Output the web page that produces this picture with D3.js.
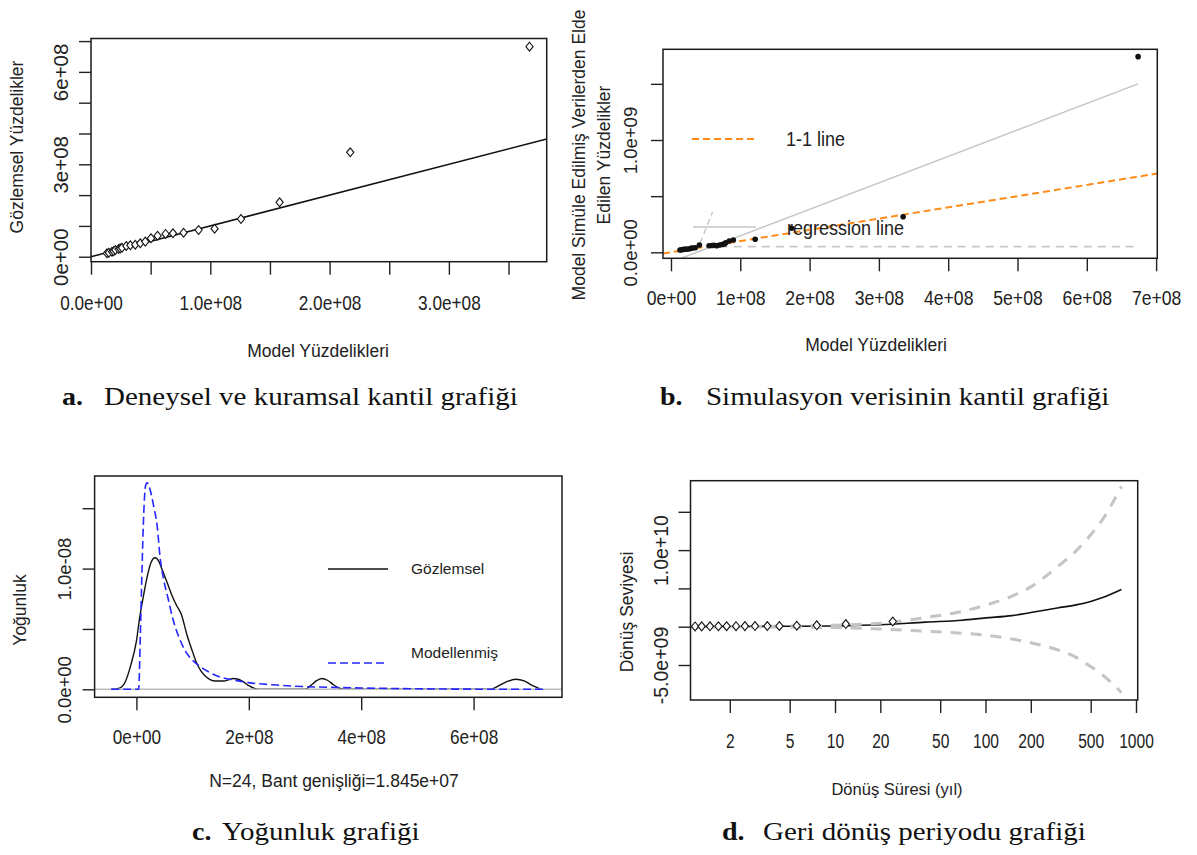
<!DOCTYPE html>
<html lang="tr">
  <head>
    <meta charset="UTF-8">
    <script src="https://d3js.org/d3.v7.min.js"></script>
    <style>
      html, body { margin: 0; padding: 0; background: #fff; }
      svg { display: block; }
    </style>
  </head>
  <body>
    <svg id="graph" width="1197" height="855"></svg>
    <script>
      //
      // a. Quantile plot (values in units of 1e8)
      //
      let qqModel = [0.134, 0.15, 0.176, 0.19, 0.204, 0.231, 0.245, 0.26, 0.296, 0.33, 0.371, 0.413,
                     0.455, 0.503, 0.558, 0.625, 0.687, 0.776, 0.902, 1.036, 1.257, 1.581, 2.173, 3.676];
      let qqObserved = [0.11, 0.13, 0.16, 0.18, 0.22, 0.25, 0.27, 0.29, 0.35, 0.37, 0.39, 0.435,
                        0.49, 0.60, 0.68, 0.74, 0.76, 0.78, 0.867, 0.909, 1.224, 1.766, 3.39, 6.82];
      let qqXTicks = [0, 0.5, 1, 1.5, 2, 2.5, 3, 3.5];
      let qqXLabels = ['0.0e+00', '', '1.0e+08', '', '2.0e+08', '', '3.0e+08', ''];
      let qqYTicks = [0, 1, 2, 3, 4, 5, 6, 7];
      let qqYLabels = ['0e+00', '', '', '3e+08', '', '', '6e+08', ''];

      //
      // b. Simulated quantiles (x in 1e8, y in 1e9)
      //
      let simModel = [0.13, 0.15, 0.17, 0.19, 0.22, 0.26, 0.29, 0.31, 0.35, 0.41, 0.55, 0.59,
                      0.62, 0.66, 0.70, 0.74, 0.77, 0.79, 0.84, 0.90, 1.215, 1.74, 3.35, 6.74];
      let simQuantile = [0.02, 0.022, 0.025, 0.027, 0.028, 0.03, 0.035, 0.038, 0.04, 0.065, 0.058, 0.06,
                         0.062, 0.059, 0.065, 0.07, 0.075, 0.085, 0.10, 0.11, 0.116, 0.214, 0.317, 1.742];
      let simFitX = [0.16, 6.74];
      let simFitY = [-0.05, 1.50];
      let simFlatX = [0.30, 6.74];
      let simFlatY = [0.05, 0.05];
      let simDiagX = [0.42, 0.60];
      let simDiagY = [0.08, 0.36];
      let simXTicks = [0, 1, 2, 3, 4, 5, 6, 7];
      let simXLabels = ['0e+00', '1e+08', '2e+08', '3e+08', '4e+08', '5e+08', '6e+08', '7e+08'];
      let simYTicks = [0, 0.5, 1, 1.5];
      let simYLabels = ['0.0e+00', '', '1.0e+09', ''];

      //
      // c. Density (x in 1e8, y in 1e-8)
      //
      let obsDensX = [-0.45, -0.3, -0.2, -0.1, 0.0, 0.06, 0.12, 0.2, 0.26, 0.33, 0.4, 0.45, 0.55, 0.63, 0.72,
                      0.8, 0.9, 1.0, 1.07, 1.15, 1.25, 1.4, 1.55, 1.65, 1.72, 1.8, 1.9, 2.0, 2.1, 2.2,
                      3.0, 3.1, 3.2, 3.3, 3.4, 3.5, 3.6, 3.7, 6.3, 6.45, 6.6, 6.75, 6.9, 7.05, 7.2];
      let obsDensY = [0, 0.01, 0.06, 0.2, 0.4, 0.6, 0.76, 0.95, 1.05, 1.09, 1.06, 1.0, 0.88, 0.78, 0.69,
                      0.62, 0.45, 0.31, 0.22, 0.15, 0.10, 0.069, 0.069, 0.08, 0.09, 0.085, 0.063, 0.03, 0.008, 0,
                      0, 0.03, 0.07, 0.09, 0.075, 0.04, 0.012, 0, 0, 0.03, 0.065, 0.083, 0.07, 0.03, 0];
      let modDensX = [-0.45, 0.04, 0.07, 0.1, 0.13, 0.16, 0.19, 0.24, 0.31, 0.37, 0.42, 0.48, 0.56, 0.65, 0.75,
                      0.88, 1.0, 1.13, 1.3, 1.5, 1.75, 2.0, 2.5, 3.0, 3.5, 4.0, 4.5, 5.0, 5.5, 6.0, 7.25];
      let modDensY = [0, 0, 0.45, 1.0, 1.45, 1.68, 1.71, 1.66, 1.51, 1.35, 1.10, 0.92, 0.76, 0.58, 0.44,
                      0.31, 0.24, 0.19, 0.14, 0.10, 0.075, 0.055, 0.035, 0.022, 0.016, 0.011, 0.007, 0.004, 0.002, 0.001, 0];
      let densXTicks = [0, 2, 4, 6];
      let densXLabels = ['0e+00', '2e+08', '4e+08', '6e+08'];
      let densYTicks = [0, 0.5, 1, 1.5];
      let densYLabels = ['0.0e+00', '', '1.0e-08', ''];

      //
      // d. Return level plot (level in 1e9)
      //
      let rlT = [1.1, 2, 5, 10, 20, 40, 70, 100, 150, 200, 300, 400, 500, 600, 800];
      let rlLevel = [0.0, 0.02, 0.05, 0.1, 0.25, 0.6, 0.85, 1.15, 1.45, 1.85, 2.45, 2.85, 3.3, 3.8, 4.85];
      let ciT = [1.1, 5, 10, 20, 40, 70, 100, 150, 200, 300, 400, 500, 600, 800];
      let ciUpper = [0.0, 0.08, 0.2, 0.45, 1.2, 2.0, 2.8, 4.0, 5.2, 7.8, 9.9, 12.0, 14.0, 18.3];
      let ciLower = [0.0, -0.05, -0.12, -0.3, -0.6, -0.85, -1.1, -1.6, -2.1, -3.0, -4.0, -5.2, -6.3, -8.6];
      let obsT = [1.175, 1.30, 1.476, 1.68, 1.905, 2.2, 2.52, 2.94, 3.55, 4.27, 5.57, 7.56, 11.8, 24.2];
      let obsLevel = [0.039, 0.0435, 0.049, 0.06, 0.068, 0.074, 0.076, 0.078, 0.087, 0.091, 0.122, 0.177, 0.339, 0.68];
      let rlXTicks = [2, 5, 10, 20, 50, 100, 200, 500, 1000];
      let rlXLabels = ['2', '5', '10', '20', '50', '100', '200', '500', '1000'];
      let rlYTicks = [-5, 0, 5, 10, 15];
      let rlYLabels = ['-5.0e+09', '', '', '1.0e+10', ''];

      const SANS = '"Liberation Sans", Arial, sans-serif';
      const SERIF = '"Liberation Serif", "Times New Roman", serif';
      const INK = '#222';

      let svg = d3.select('#graph');
      svg.append('rect').attr('width', 1197).attr('height', 855).attr('fill', '#fff');

      let diamond = 'M0,-4.4L3.6,0L0,4.4L-3.6,0Z';

      //
      // helpers
      //
      function frame(x, y) {
        let [x0, x1] = x.range();
        let [y0, y1] = y.range();
        svg.append('rect')
          .attr('x', x0).attr('y', y1)
          .attr('width', x1 - x0).attr('height', y0 - y1)
          .attr('fill', 'none').attr('stroke', '#1a1a1a').attr('stroke-width', 1.5);
      }

      // x tick labels are a narrow face: Liberation Sans squeezed horizontally
      function xAxis(x, y, ticks, labels, labelY, fs, sx) {
        let bottom = y.range()[0];
        let g = svg.append('g')
          .attr('transform', `translate(0,${bottom})`)
          .call(d3.axisBottom(x).tickValues(ticks).tickFormat((d, i) => labels[i]).tickSize(13).tickSizeOuter(0));
        g.select('.domain').remove();
        g.selectAll('.tick line').attr('stroke', INK).attr('stroke-width', 1.4);
        g.selectAll('.tick text')
          .attr('y', labelY - bottom).attr('dy', '0.35em')
          .attr('transform', `scale(${sx},1)`)
          .attr('fill', INK)
          .style('font-family', SANS).style('font-size', fs + 'px');
      }

      function yAxis(x, y, ticks, labels, baseX, fs) {
        let left = x.range()[0];
        let g = svg.append('g')
          .attr('transform', `translate(${left},0)`)
          .call(d3.axisLeft(y).tickValues(ticks).tickFormat((d, i) => labels[i]).tickSize(12).tickSizeOuter(0));
        g.select('.domain').remove();
        g.selectAll('.tick line').attr('stroke', INK).attr('stroke-width', 1.4);
        g.selectAll('.tick text')
          .attr('transform', 'rotate(-90)')
          .attr('x', 0).attr('y', baseX - left).attr('dy', 0)
          .attr('text-anchor', 'middle')
          .attr('fill', INK)
          .style('font-family', SANS).style('font-size', fs + 'px');
      }

      function label(x, y, txt, fs, rotate, sx) {
        svg.append('text')
          .attr('transform', `translate(${x},${y})` + (rotate ? ' rotate(-90)' : '') + (sx ? ` scale(${sx},1)` : ''))
          .attr('text-anchor', 'middle')
          .attr('fill', INK)
          .style('font-family', SANS).style('font-size', fs + 'px')
          .text(txt);
      }

      function legendText(x, y, txt, fs, sx) {
        svg.append('text')
          .attr('transform', `translate(${x},${y}) scale(${sx},1)`)
          .attr('fill', INK)
          .style('font-family', SANS).style('font-size', fs + 'px')
          .text(txt);
      }

      function caption(x1, x2, y, tag, txt) {
        svg.append('text').attr('transform', `translate(${x1},${y}) scale(1.12,1)`)
          .attr('fill', '#111')
          .style('font-family', SERIF).style('font-size', '25px').style('font-weight', 'bold')
          .text(tag);
        svg.append('text').attr('transform', `translate(${x2},${y}) scale(1.16,1)`)
          .attr('fill', '#111')
          .style('font-family', SERIF).style('font-size', '25px')
          .text(txt);
      }

      //
      // Panel a
      //
      let xA = d3.scaleLinear().domain([0, 3.82]).range([91, 546.7]);
      let yA = d3.scaleLinear().domain([-0.162, 7.084]).range([261.7, 38.5]);

      svg.append('line')
        .attr('x1', xA(xA.domain()[0])).attr('y1', yA(xA.domain()[0]))
        .attr('x2', xA(xA.domain()[1])).attr('y2', yA(xA.domain()[1]))
        .attr('stroke', '#111').attr('stroke-width', 1.5);

      svg.append('g').selectAll('path')
        .data(qqModel)
        .enter()
        .append('path')
        .attr('d', diamond)
        .attr('transform', (d, i) => `translate(${xA(d)},${yA(qqObserved[i])})`)
        .attr('fill', '#fff').attr('stroke', '#111').attr('stroke-width', 1.1);

      frame(xA, yA);
      xAxis(xA, yA, qqXTicks, qqXLabels, 303, 20.5, 0.84);
      yAxis(xA, yA, qqYTicks, qqYLabels, 68, 20.5);
      label(318, 357, 'Model Yüzdelikleri', 17.5);
      label(23, 147, 'Gözlemsel Yüzdelikler', 17.5, true);
      caption(62, 104, 405, 'a.', 'Deneysel ve kuramsal kantil grafiği');

      //
      // Panel b
      //
      let xB = d3.scaleLinear().domain([-0.115, 7.017]).range([663, 1157.3]);
      let yB = d3.scaleLinear().domain([-0.0534, 1.8076]).range([258.3, 49.3]);
      let lineB = d3.line().x(d => xB(d[0])).y(d => yB(d[1]));

      svg.append('path')
        .attr('d', lineB(d3.zip(simFitX, simFitY)))
        .attr('fill', 'none').attr('stroke', '#c4c4c4').attr('stroke-width', 1.4);

      svg.append('path')
        .attr('d', lineB(xB.domain().map(v => [v, v / 10])))
        .attr('fill', 'none').attr('stroke', '#ff8c1a').attr('stroke-width', 2)
        .attr('stroke-dasharray', '7,4');

      svg.append('path')
        .attr('d', lineB(d3.zip(simFlatX, simFlatY)))
        .attr('fill', 'none').attr('stroke', '#c8c8c8').attr('stroke-width', 1.8)
        .attr('stroke-dasharray', '8,6');

      svg.append('path')
        .attr('d', lineB(d3.zip(simDiagX, simDiagY)))
        .attr('fill', 'none').attr('stroke', '#bdbdbd').attr('stroke-width', 1.2)
        .attr('stroke-dasharray', '6,4');

      svg.append('g').selectAll('circle')
        .data(simModel)
        .enter()
        .append('circle')
        .attr('cx', d => xB(d))
        .attr('cy', (d, i) => yB(simQuantile[i]))
        .attr('r', 2.8)
        .attr('fill', '#111');

      // legend
      svg.append('line').attr('x1', 692).attr('x2', 756).attr('y1', 139).attr('y2', 139)
        .attr('stroke', '#ff8c1a').attr('stroke-width', 2).attr('stroke-dasharray', '7,4');
      legendText(786, 146, '1-1 line', 20, 0.9);
      svg.append('line').attr('x1', 693).attr('x2', 756).attr('y1', 227).attr('y2', 227)
        .attr('stroke', '#c4c4c4').attr('stroke-width', 1.4);
      legendText(787, 235, 'regression line', 20, 0.9);

      frame(xB, yB);
      xAxis(xB, yB, simXTicks, simXLabels, 298, 20.5, 0.86);
      yAxis(xB, yB, simYTicks, simYLabels, 637, 18.5);
      label(876, 351, 'Model Yüzdelikleri', 17.5);
      label(585, 155, 'Model Simüle Edilmiş Verilerden Elde', 17.5, true);
      label(610, 155, 'Edilen Yüzdelikler', 17.5, true);
      caption(660, 706, 405, 'b.', 'Simulasyon verisinin kantil grafiği');

      //
      // Panel c
      //
      let xC = d3.scaleLinear().domain([-0.744, 7.573]).range([94.6, 562]);
      let yC = d3.scaleLinear().domain([-0.0663, 1.767]).range([697.3, 476]);
      let lineC = d3.line().x(d => xC(d[0])).y(d => yC(d[1])).curve(d3.curveMonotoneX);

      svg.append('path')
        .attr('d', lineC(d3.zip(obsDensX, obsDensY)))
        .attr('fill', 'none').attr('stroke', '#111').attr('stroke-width', 1.4);

      svg.append('line')
        .attr('x1', xC(xC.domain()[0])).attr('x2', xC(xC.domain()[1]))
        .attr('y1', yC(0)).attr('y2', yC(0))
        .attr('stroke', '#bdbdbd').attr('stroke-width', 1.6);

      svg.append('path')
        .attr('d', lineC(d3.zip(modDensX, modDensY)))
        .attr('fill', 'none').attr('stroke', '#2626ff').attr('stroke-width', 1.6)
        .attr('stroke-dasharray', '8,4');

      // legend
      svg.append('line').attr('x1', 328).attr('x2', 388).attr('y1', 569).attr('y2', 569)
        .attr('stroke', '#111').attr('stroke-width', 1.5);
      legendText(411, 574, 'Gözlemsel', 15.5, 1);
      svg.append('line').attr('x1', 328).attr('x2', 388).attr('y1', 663).attr('y2', 663)
        .attr('stroke', '#2626ff').attr('stroke-width', 1.6).attr('stroke-dasharray', '8,4');
      legendText(411, 658, 'Modellenmiş', 15.5, 1);

      frame(xC, yC);
      xAxis(xC, yC, densXTicks, densXLabels, 737, 20.5, 0.84);
      yAxis(xC, yC, densYTicks, densYLabels, 71, 18.5);
      label(334, 787, 'N=24, Bant genişliği=1.845e+07', 17.5);
      label(26, 610, 'Yoğunluk', 17.5, true);
      caption(192, 222, 840, 'c.', 'Yoğunluk grafiği');

      //
      // Panel d
      //
      let xD = d3.scaleLog().domain([1.096, 1026.4]).range([690.5, 1137.7]);
      let yD = d3.scaleLinear().domain([-9.569, 19.06]).range([700, 480.7]);
      let lineD = d3.line().x(d => xD(d[0])).y(d => yD(d[1])).curve(d3.curveMonotoneX);

      svg.append('path')
        .attr('d', lineD(d3.zip(rlT, rlLevel)))
        .attr('fill', 'none').attr('stroke', '#111').attr('stroke-width', 1.6);

      [ciUpper, ciLower].forEach(ci => {
        svg.append('path')
          .attr('d', lineD(d3.zip(ciT, ci)))
          .attr('fill', 'none').attr('stroke', '#c4c4c4').attr('stroke-width', 3)
          .attr('stroke-dasharray', '11,9');
      });

      svg.append('g').selectAll('path')
        .data(obsT)
        .enter()
        .append('path')
        .attr('d', diamond)
        .attr('transform', (d, i) => `translate(${xD(d)},${yD(obsLevel[i])})`)
        .attr('fill', '#fff').attr('stroke', '#111').attr('stroke-width', 1.1);

      frame(xD, yD);
      xAxis(xD, yD, rlXTicks, rlXLabels, 741, 19.5, 0.8);
      yAxis(xD, yD, rlYTicks, rlYLabels, 668, 19.5);
      label(897, 795, 'Dönüş Süresi (yıl)', 16.5);
      label(633, 612, 'Dönüş Seviyesi', 17.5, true);
      caption(722, 763, 840, 'd.', 'Geri dönüş periyodu grafiği');
    </script>
  </body>
</html>
